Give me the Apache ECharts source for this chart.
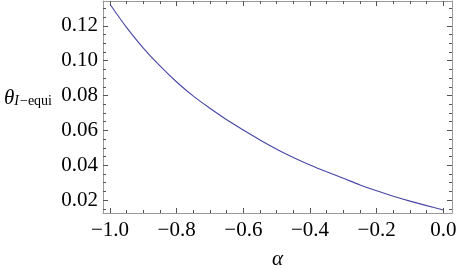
<!DOCTYPE html>
<html><head><meta charset="utf-8">
<script src="https://cdn.jsdelivr.net/npm/echarts@6/dist/echarts.min.js"></script>
<style>html,body{margin:0;padding:0;background:#fff}#c{width:457px;height:269px}</style>
</head><body><div id="c"></div>
<script>
// data
const alphaValues = [-1.0,-0.95,-0.9,-0.85,-0.8,-0.75,-0.7,-0.65,-0.6,-0.55,-0.5,-0.45,-0.4,-0.35,-0.3,-0.25,-0.2,-0.15,-0.1,-0.05,0.0];
const thetaValues = [0.1324,0.1190,0.1073,0.0970,0.0878,0.0797,0.0727,0.0661,0.0602,0.0545,0.0492,0.0444,0.0401,0.0362,0.0325,0.0287,0.0253,0.0222,0.0194,0.0168,0.0143];
const xTicks = [-1.0,-0.8,-0.6,-0.4,-0.2,0.0];
const yTicks = [0.02,0.04,0.06,0.08,0.10,0.12];
const xRange = [-1.021, 0.026];
const yRange = [0.01257, 0.1343];

function minors(ticks, step, range){
  const out=[]; const d=step/4;
  for(let v=ticks[0]-step; v<=ticks[ticks.length-1]+step+1e-9; v+=step){
    for(let k=1;k<4;k++){const m=+(v+k*d).toFixed(6); if(m>range[0]&&m<range[1]) out.push(m);}
  }
  return out;
}
const xMinor = minors(xTicks,0.2,xRange);
const yMinor = minors(yTicks,0.02,yRange);
const fmtX = v => (v<0?'\u2212':'')+Math.abs(v).toFixed(1);
const fmtY = v => v.toFixed(2);
const FONT = 'Liberation Serif';
const frameColor = '#9a9a9a';
const tickColor = '#555';
const FS = 21;

function xAx(pos, labels, vals, len, showLine){
  return {type:'value', position:pos, min:xRange[0], max:xRange[1],
    axisLine:{show:showLine, onZero:false, lineStyle:{color:frameColor,width:1}},
    splitLine:{show:false},
    axisTick:{show:true, inside:true, length:len, customValues:vals, lineStyle:{color:tickColor,width:1}},
    axisLabel:{show:labels, customValues:vals, formatter:fmtX, color:'#000', fontFamily:FONT, fontSize:FS, margin:7}};
}
function yAx(pos, labels, vals, len, showLine){
  return {type:'value', position:pos, min:yRange[0], max:yRange[1],
    axisLine:{show:showLine, onZero:false, lineStyle:{color:frameColor,width:1}},
    splitLine:{show:false},
    axisTick:{show:true, inside:true, length:len, customValues:vals, lineStyle:{color:tickColor,width:1}},
    axisLabel:{show:labels, customValues:vals, formatter:fmtY, color:'#000', fontFamily:FONT, fontSize:FS, margin:5}};
}
const xAxes=[xAx('bottom',true,xTicks,5,true), xAx('bottom',false,xMinor,3,false), xAx('top',false,xTicks,5,true), xAx('top',false,xMinor,3,false)];
xAxes[0].name='\u03b1'; xAxes[0].nameLocation='middle'; xAxes[0].nameGap=36;
xAxes[0].nameTextStyle={fontFamily:FONT,fontStyle:'italic',fontSize:21,color:'#000'};
const yAxes=[yAx('left',true,yTicks,5,true), yAx('left',false,yMinor,3,false), yAx('right',false,yTicks,5,true), yAx('right',false,yMinor,3,false)];
yAxes[0].name='{t|\u03b8}{si|I}{s|\u2212equi}'; yAxes[0].nameLocation='middle'; yAxes[0].nameRotate=0; yAxes[0].nameGap=51;
yAxes[0].nameTextStyle={fontFamily:FONT,color:'#000',padding:[0,0,18,0],rich:{
  t:{fontFamily:FONT,fontStyle:'italic',fontSize:21,color:'#000',verticalAlign:'top',lineHeight:20},
  si:{fontFamily:FONT,fontStyle:'italic',fontSize:14,color:'#000',verticalAlign:'bottom',lineHeight:14,padding:[10,1,0,0]},
  s:{fontFamily:FONT,fontSize:14,color:'#000',verticalAlign:'bottom',lineHeight:14,padding:[10,0,0,0]}}};

const chart = echarts.init(document.getElementById('c'),null,{renderer:'canvas'});
chart.setOption({
  animation:false,
  grid:{left:103,right:5,top:1,bottom:56,containLabel:false,outerBoundsMode:'none'},
  xAxis:xAxes, yAxis:yAxes,
  series:[{type:'line', xAxisIndex:0, yAxisIndex:0, smooth:0.3, symbol:'none',
    data:alphaValues.map((a,i)=>[a,thetaValues[i]]),
    lineStyle:{color:'#4646a6',width:1.1}}]
});
</script></body></html>
